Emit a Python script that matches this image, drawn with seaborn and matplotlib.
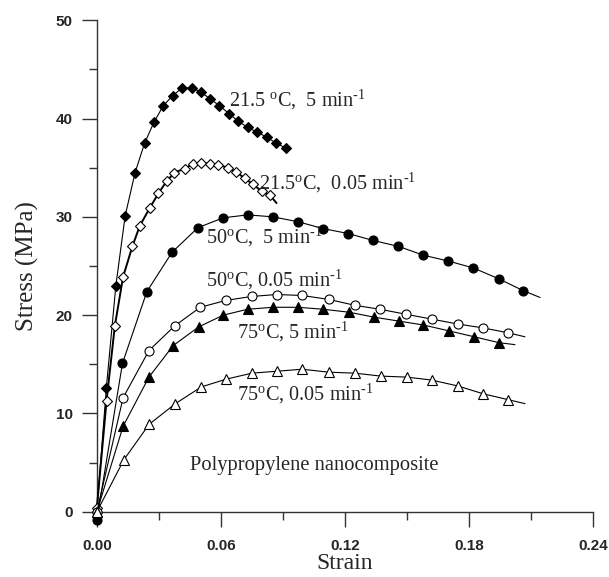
import numpy as np
import matplotlib
matplotlib.use('Agg')
import matplotlib.pyplot as plt
import seaborn as sns
from matplotlib.ticker import MultipleLocator, FormatStrFormatter

# Stress-strain data (last point of the slow/long curves is the line tail, no marker)
s1_strain = [0, 0.0046, 0.0092, 0.0137, 0.0185, 0.0231, 0.0276, 0.0321, 0.0366, 0.0411, 0.0458,
             0.0503, 0.0548, 0.0593, 0.0639, 0.0685, 0.073, 0.0776, 0.0822, 0.0867, 0.0913]
s1_stress = [0, 12.6, 23.0, 30.1, 34.5, 37.5, 39.6, 41.3, 42.3, 43.1, 43.1,
             42.7, 42.0, 41.3, 40.5, 39.7, 39.1, 38.6, 38.1, 37.5, 37.0]

s2_strain = [0, 0.0047, 0.0087, 0.0127, 0.0172, 0.0208, 0.0256, 0.0298, 0.0337, 0.0375, 0.0425,
             0.0466, 0.0506, 0.0546, 0.0587, 0.0632, 0.0672, 0.0716, 0.0756, 0.0797, 0.0837, 0.0869]
s2_stress = [0.4, 11.3, 18.9, 23.9, 27.0, 29.1, 30.9, 32.4, 33.6, 34.5, 34.9,
             35.4, 35.5, 35.4, 35.3, 35.0, 34.6, 33.9, 33.3, 32.6, 32.2, 31.4]

s3_strain = [0, 0.0124, 0.0242, 0.0364, 0.0489, 0.0611, 0.0729, 0.0851, 0.0973, 0.1095, 0.1216,
             0.1335, 0.1458, 0.1579, 0.17, 0.1821, 0.1943, 0.2061, 0.2143]
s3_stress = [-0.8, 15.1, 22.4, 26.4, 28.9, 29.9, 30.2, 30.0, 29.5, 28.8, 28.3,
             27.6, 27.0, 26.1, 25.5, 24.8, 23.7, 22.5, 21.8]

s4_strain = [0, 0.0127, 0.0252, 0.0376, 0.05, 0.0624, 0.0748, 0.087, 0.0993, 0.1122, 0.1248,
             0.1369, 0.1493, 0.1619, 0.1745, 0.1869, 0.199, 0.207]
s4_stress = [0, 11.6, 16.4, 18.9, 20.8, 21.5, 21.9, 22.1, 22.0, 21.6, 21.0,
             20.6, 20.1, 19.6, 19.1, 18.7, 18.2, 17.8]

s5_strain = [0, 0.0127, 0.0252, 0.0369, 0.0492, 0.0611, 0.0729, 0.0852, 0.0973, 0.1095, 0.1219,
             0.134, 0.1459, 0.1579, 0.1703, 0.1825, 0.1945, 0.2022]
s5_stress = [0, 8.7, 13.7, 16.9, 18.8, 20.0, 20.6, 20.8, 20.8, 20.6, 20.3,
             19.8, 19.4, 19.0, 18.4, 17.8, 17.2, 17.0]

s6_strain = [0, 0.0131, 0.0253, 0.038, 0.0505, 0.0627, 0.075, 0.0872, 0.0993, 0.1122, 0.1248,
             0.1374, 0.1498, 0.1619, 0.1745, 0.1869, 0.199, 0.207]
s6_stress = [0, 5.3, 8.9, 11.0, 12.7, 13.5, 14.1, 14.3, 14.5, 14.2, 14.1,
             13.8, 13.7, 13.4, 12.8, 12.0, 11.4, 11.0]

labels = ['21.5 $^{\\text{o}}$C,  5 min$^{\\text{-1}}$',
          '21.5$^{\\text{o}}$C,  0.05 min$^{\\text{-1}}$',
          '50$^{\\text{o}}$C,  5 min$^{\\text{-1}}$',
          '50$^{\\text{o}}$C, 0.05 min$^{\\text{-1}}$',
          '75$^{\\text{o}}$C, 5 min$^{\\text{-1}}$',
          '75$^{\\text{o}}$C, 0.05 min$^{\\text{-1}}$']
label_x = [0.064, 0.0785, 0.053, 0.053, 0.0676, 0.0676]
label_y = [41.9, 33.4, 28.0, 23.6, 18.3, 12.0]

sns.set_style('white')
plt.rcParams['font.family'] = ['Liberation Serif', 'DejaVu Serif']
plt.rcParams['mathtext.fontset'] = 'custom'
plt.rcParams['mathtext.rm'] = 'Liberation Serif'
plt.rcParams['mathtext.it'] = 'Liberation Serif:italic'

fig = plt.figure(figsize=(6.09, 5.77), dpi=100)
ax = fig.add_axes([0.159, 0.113, 0.815, 0.852])

series = [
    (s1_strain, s1_stress, 'D', 'black', 0.8, None),
    (s2_strain, s2_stress, 'D', 'white', 1.4, slice(0, -1)),
    (s3_strain, s3_stress, 'o', 'black', 0.8, slice(0, -1)),
    (s4_strain, s4_stress, 'o', 'white', 0.8, slice(0, -1)),
    (s5_strain, s5_stress, '^', 'black', 0.8, slice(0, -1)),
    (s6_strain, s6_stress, '^', 'white', 0.8, slice(0, -1)),
]
sizes = {'D': 5.5, 'o': 6.5, '^': 6.5}

for xs, ys, mk, fc, lw, every in series:
    sns.lineplot(x=xs, y=ys, ax=ax, sort=False, estimator=None, color='black',
                 linewidth=lw, marker=mk, markersize=sizes[mk], markerfacecolor=fc,
                 markeredgecolor='black', markeredgewidth=0.8, markevery=every,
                 clip_on=False, zorder=3)

for txt, x, y in zip(labels, label_x, label_y):
    ax.text(x, y, txt, fontsize=14.6, va='center', ha='left', zorder=4)
ax.text(0.045, 4.75, 'Polypropylene nanocomposite', fontsize=14.8, va='center', ha='left')

ax.set_xlim(0, 0.24)
ax.set_ylim(0, 50)
ax.xaxis.set_major_locator(MultipleLocator(0.06))
ax.xaxis.set_minor_locator(MultipleLocator(0.03))
ax.yaxis.set_major_locator(MultipleLocator(10))
ax.yaxis.set_minor_locator(MultipleLocator(5))
ax.xaxis.set_major_formatter(FormatStrFormatter('%.2f'))
ax.yaxis.set_major_formatter(FormatStrFormatter('%d'))

for side in ['top', 'right']:
    ax.spines[side].set_visible(False)
for side in ['left', 'bottom']:
    ax.spines[side].set_color('#333333')
    ax.spines[side].set_linewidth(1.0)

ax.tick_params(which='both', bottom=True, left=True, top=False, right=False)
ax.tick_params(which='major', direction='out', length=11, width=1.0, color='#333333', pad=8.5)
ax.tick_params(which='minor', direction='out', length=5.5, width=1.0, color='#333333')
ax.tick_params(axis='y', which='major', pad=6.5)
for lab in ax.get_xticklabels() + ax.get_yticklabels():
    lab.set_family('Liberation Sans')
    lab.set_fontweight('bold')
    lab.set_fontsize(11)

ax.set_xlabel('Strain', fontsize=17, labelpad=0)
ax.set_ylabel('Stress (MPa)', fontsize=18, labelpad=12)

fig.savefig('out.png', dpi=100)
